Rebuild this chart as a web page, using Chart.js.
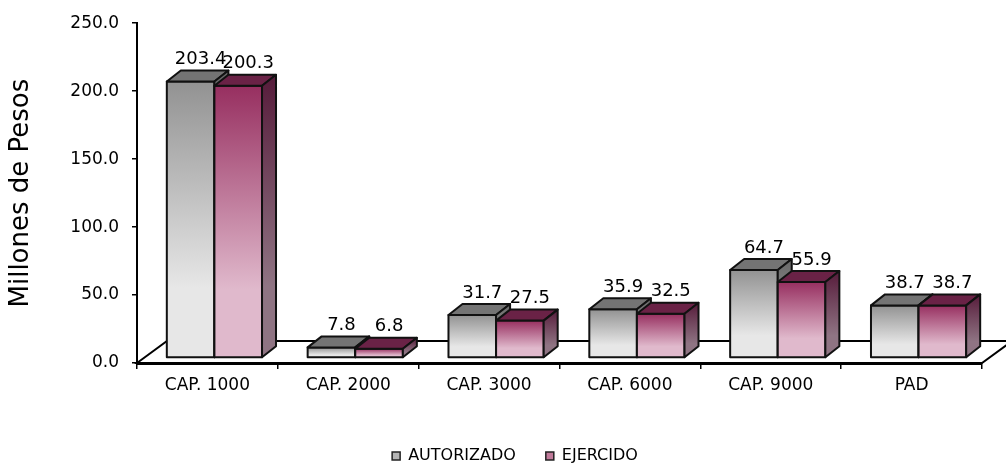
<!DOCTYPE html>
<html>
<head>
<meta charset="utf-8">
<script src="https://cdn.jsdelivr.net/npm/chart.js@4"></script>
<style>
  html, body { margin: 0; padding: 0; background: #fff; }
  #wrap { width: 1006px; height: 464px; }
</style>
</head>
<body>
<div id="wrap"><canvas id="myChart"></canvas></div>
<script>
const categories = ['CAP. 1000', 'CAP. 2000', 'CAP. 3000', 'CAP. 6000', 'CAP. 9000', 'PAD'];
const autorizado = [203.4, 7.8, 31.7, 35.9, 64.7, 38.7];
const ejercido = [200.3, 6.8, 27.5, 32.5, 55.9, 38.7];
const seriesNames = ['AUTORIZADO', 'EJERCIDO'];

const FONT = 'DejaVu Sans';

// bar depth and floor depth (3d look)
const DX = 14, DY = -11;
const SX = 7, SY = -5;
const FX = 30, FY = -22;

const palette = [
  { front: ['#929292', '#e7e7e7'], top: '#747474', side: ['#686868', '#a2a2a2'], legend: '#b4b4b4' },
  { front: ['#972f60', '#e0b9cc'], top: '#6a2246', side: ['#561b3a', '#8f7483'], legend: '#c07a9a' }
];

function grad(ctx, y0, y1, c) {
  const g = ctx.createLinearGradient(0, y0, 0, y1);
  g.addColorStop(0, c[0]);
  g.addColorStop(0.75, c[1]);
  g.addColorStop(1, c[1]);
  return g;
}

const bars3d = {
  id: 'bars3d',
  beforeDraw(chart) {
    const { ctx, chartArea: a } = chart;
    ctx.save();
    ctx.beginPath();
    ctx.moveTo(a.left, a.bottom);
    ctx.lineTo(a.left + FX, a.bottom + FY);
    ctx.lineTo(a.right + FX, a.bottom + FY);
    ctx.lineTo(a.right, a.bottom);
    ctx.closePath();
    ctx.fillStyle = '#fff';
    ctx.fill();
    ctx.lineWidth = 2;
    ctx.strokeStyle = '#000';
    ctx.stroke();
    ctx.restore();
  },
  afterDatasetsDraw(chart) {
    const ctx = chart.ctx;
    const n = chart.data.labels.length;
    for (let i = 0; i < n; i++) {
      chart.data.datasets.forEach((ds, d) => {
        const el = chart.getDatasetMeta(d).data[i];
        const p = palette[d];
        const l = el.x - el.width / 2 + SX, r = el.x + el.width / 2 + SX;
        const t = el.y + SY, b = el.base + SY;
        ctx.save();
        ctx.lineWidth = 2;
        ctx.strokeStyle = '#111';
        ctx.lineJoin = 'round';
        // front
        ctx.fillStyle = grad(ctx, t, b, p.front);
        ctx.fillRect(l, t, r - l, b - t);
        ctx.strokeRect(l, t, r - l, b - t);
        // top
        ctx.beginPath();
        ctx.moveTo(l, t); ctx.lineTo(l + DX, t + DY); ctx.lineTo(r + DX, t + DY); ctx.lineTo(r, t);
        ctx.closePath();
        ctx.fillStyle = p.top;
        ctx.fill(); ctx.stroke();
        // side
        ctx.beginPath();
        ctx.moveTo(r, t); ctx.lineTo(r + DX, t + DY); ctx.lineTo(r + DX, b + DY); ctx.lineTo(r, b);
        ctx.closePath();
        ctx.fillStyle = grad(ctx, t + DY, b, p.side);
        ctx.fill(); ctx.stroke();
        ctx.restore();
      });
      // value labels
      chart.data.datasets.forEach((ds, d) => {
        const el = chart.getDatasetMeta(d).data[i];
        ctx.save();
        ctx.font = '18px "' + FONT + '"';
        ctx.fillStyle = '#000';
        ctx.textAlign = 'center';
        ctx.textBaseline = 'bottom';
        ctx.fillText(ds.data[i].toFixed(1), el.x + SX + 10, el.y + SY + DY - 2);
        ctx.restore();
      });
    }
  }
};

const ctx = document.getElementById('myChart');
const myChart = new Chart(ctx, {
  type: 'bar',
  data: {
    labels: categories,
    datasets: [
      { label: seriesNames[0], data: autorizado, backgroundColor: 'rgba(0,0,0,0)', borderWidth: 0 },
      { label: seriesNames[1], data: ejercido, backgroundColor: 'rgba(0,0,0,0)', borderWidth: 0 }
    ]
  },
  plugins: [bars3d],
  options: {
    responsive: true,
    maintainAspectRatio: false,
    devicePixelRatio: 1,
    animation: false,
    layout: { padding: { top: 22, right: 24, bottom: -10, left: 48 } },
    datasets: { bar: { categoryPercentage: 0.676, barPercentage: 1 } },
    scales: {
      x: {
        grid: { drawOnChartArea: false, color: '#000', lineWidth: 1.5, tickLength: 6, offset: true },
        border: { color: '#000', width: 3 },
        ticks: { color: '#000', font: { family: FONT, size: 17 }, padding: 6 },
        afterFit(scale) { scale.height = 55; }
      },
      y: {
        min: 0, max: 250,
        ticks: { stepSize: 50, color: '#000', font: { family: FONT, size: 17 }, padding: 13,
          callback: v => v.toFixed(1) },
        grid: { drawOnChartArea: false, color: '#000', lineWidth: 1.5, tickLength: 5 },
        border: { color: '#000', width: 2 },
        title: { display: true, text: 'Millones de Pesos', color: '#000',
          font: { family: FONT, size: 26 }, padding: { top: -42, bottom: 0 } },
        afterFit(scale) { scale.width = 89; }
      }
    },
    plugins: {
      tooltip: { enabled: false },
      legend: {
        position: 'bottom',
        labels: {
          color: '#000',
          font: { family: FONT, size: 16 },
          boxWidth: 8, boxHeight: 8, padding: 30,
          generateLabels(chart) {
            return chart.data.datasets.map((ds, d) => ({
              text: ds.label, fillStyle: palette[d].legend, strokeStyle: '#222',
              lineWidth: 1.5, datasetIndex: d, hidden: false, fontColor: '#000'
            }));
          }
        }
      }
    }
  }
});
</script>
</body>
</html>
